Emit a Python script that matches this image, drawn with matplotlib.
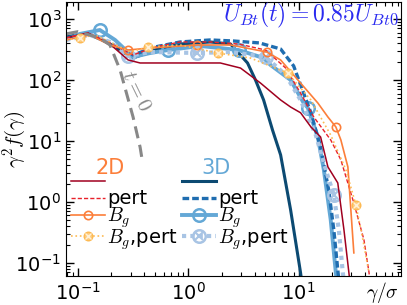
import matplotlib
matplotlib.use("Agg")
import matplotlib.pyplot as plt
from matplotlib.legend_handler import HandlerTuple

plt.rcParams['mathtext.fontset'] = 'cm'
plt.rcParams['font.family'] = ['DejaVu Sans']

# ---------------- data ----------------
g_t0 = [0.078, 0.10, 0.158, 0.195, 0.241, 0.316, 0.366, 0.382]
f_t0 = [570, 620, 489, 375, 146, 24.7, 7.9, 4.9]

g_3d = [0.078, 0.123, 0.195, 0.316, 0.5, 0.845, 1.58, 2.41, 3.44, 4.06, 4.81, 5.8, 6.86, 8.45, 10.4, 10.9]
f_3d = [507, 590, 389, 229, 310, 389, 420, 389, 190, 100, 47, 15, 5.9, 0.74, 0.069, 0.036]

g_3dp = [0.078, 0.123, 0.195, 0.316, 0.5, 0.845, 1.58, 2.55, 4.41, 6.86, 9.0, 10.4, 12.9, 15.8, 18.7, 20.8, 22.6, 23.6]
f_3dp = [489, 568, 405, 257, 348, 420, 453, 436, 405, 322, 170, 83, 29, 7.9, 1.57, 0.35, 0.077, 0.036]

g_3db = [0.078, 0.104, 0.158, 0.217, 0.316, 0.452, 0.658, 1.29, 2.85, 4.81, 5.56, 8.45, 11.1, 12.1, 14.9, 16.9, 19.5, 21.7, 22.6]
f_3db = [453, 568, 660, 453, 238, 277, 310, 361, 310, 229, 176, 100, 42, 35, 11.6, 3.35, 0.51, 0.069, 0.036]
m_3db = [2, 6, 8, 13]

g_3dbp = [0.078, 0.129, 0.195, 0.285, 0.452, 1.21, 2.41, 5.01, 7.62, 10.4, 14.3, 17.6, 20.8, 23.1, 25.1, 26.2]
f_3dbp = [453, 547, 420, 247, 288, 277, 288, 238, 121, 47, 12.5, 3.35, 1.30, 0.35, 0.069, 0.036]
m_3dbp = [3, 5, 7, 12]

g_2d = [0.078, 0.123, 0.195, 0.285, 0.366, 0.685, 1.95, 2.97, 4.51, 6.86, 8.45, 10.4, 12.9, 15.8, 18.4, 22.6, 25.7, 28.5, 29.7]
f_2d = [489, 590, 389, 213, 190, 190, 190, 157, 89, 47, 36, 29, 17, 11.6, 3.75, 2.05, 0.35, 0.069, 0.036]

g_2dp = [0.078, 0.123, 0.195, 0.316, 0.5, 0.845, 1.58, 2.85, 5.01, 7.62, 10.4, 13.7, 19.5, 24.1, 31.6, 39.0, 43.3, 45.1]
f_2dp = [489, 590, 405, 257, 348, 420, 420, 389, 310, 157, 61, 24.7, 10.4, 4.9, 0.96, 0.24, 0.071, 0.036]

g_2db = [0.078, 0.129, 0.195, 0.285, 0.452, 1.21, 2.41, 5.12, 6.86, 10.4, 14.9, 18.4, 21.7, 24.1, 27.9, 31.6]
f_2db = [453, 547, 375, 310, 335, 375, 375, 288, 213, 89, 42, 24.7, 17, 10.4, 3.75, 0.146]
m_2db = [3, 5, 7, 12]

g_2dbp = [0.078, 0.104, 0.143, 0.195, 0.297, 0.433, 0.845, 1.84, 3.66, 7.94, 12.9, 19.5, 26.8, 33.0, 38.2, 43.3]
f_2dbp = [453, 489, 547, 420, 288, 348, 375, 277, 229, 130, 47, 12.5, 3.35, 0.89, 0.24, 0.069]
m_2dbp = [1, 5, 7, 9, 13]

labels = ["", "pert", "$B_g$", "$B_g$,pert"]

# ---------------- colours ----------------
c2d, c2dp, c2db, c2dbp = '#a0001f', '#e8212a', '#fc7e3a', '#fdba53'
c3d, c3dp, c3db, c3dbp = '#0c4a72', '#1f6db0', '#64a8d6', '#a8c4e4'

fig = plt.figure(figsize=(4.07, 3.05), dpi=100)
ax = fig.add_axes([66/407, 1-276/305, 335/407, 274/305])

# 3D
l3d, = ax.plot(g_3d, f_3d, color=c3d, lw=2.2)
l3db, = ax.plot(g_3db, f_3db, color=c3db, lw=2.8, marker='o', ms=9, mfc='none',
                mew=1.8, markevery=m_3db)
l3dp, = ax.plot(g_3dp, f_3dp, color=c3dp, lw=2.4, ls=(0, (2, 0.9)))
l3dbp, = ax.plot(g_3dbp, f_3dbp, color=c3dbp, lw=3, ls=(0, (1, 1)), marker='o', ms=9,
                 mfc='none', mew=1.8, markevery=m_3dbp)
l3dbpx, = ax.plot([g_3dbp[i] for i in m_3dbp], [f_3dbp[i] for i in m_3dbp], ls='none',
                  marker='x', ms=6, mew=1.5, color=c3dbp)
# 2D
l2d, = ax.plot(g_2d, f_2d, color=c2d, lw=1.1)
l2dp, = ax.plot(g_2dp, f_2dp, color=c2dp, lw=1.0, ls=(0, (3, 1.5)))
l2db, = ax.plot(g_2db, f_2db, color=c2db, lw=1.2, marker='o', ms=6, mfc='none',
                mew=1.2, markevery=m_2db)
l2dbp, = ax.plot(g_2dbp, f_2dbp, color=c2dbp, lw=1.2, ls=':', marker='o', ms=6,
                 mfc='#fed08a', mec=c2dbp, mew=1.2, markevery=m_2dbp)
l2dbpx, = ax.plot([g_2dbp[i] for i in m_2dbp], [f_2dbp[i] for i in m_2dbp], ls='none',
                  marker='x', ms=4.5, mew=1.0, color='#fff1d8')
# t=0
ax.plot(g_t0, f_t0, color='#888888', lw=2.2, ls=(0, (4, 2.2)))
ax.text(0.343, 68, '$t=0$', color='#888888', fontsize=15, rotation=-64,
        ha='center', va='center')

ax.set_xscale('log')
ax.set_yscale('log')
ax.set_xlim(0.078, 84.5)
ax.set_ylim(0.061, 1900)

ax.tick_params(which='both', direction='in', top=True, right=True, labelsize=14)
ax.tick_params(which='major', length=6, width=1)
ax.tick_params(which='minor', length=3, width=0.8)
ax.tick_params(axis='x', pad=4)

ax.set_ylabel(r'$\gamma^2 f(\gamma)$', fontsize=15)
ax.yaxis.set_label_coords(-0.152, 0.5)
ax.yaxis.label.set_va('center')
ax.set_xlabel(r'$\gamma/\sigma$', fontsize=14)
ax.xaxis.set_label_coords(0.943, -0.062)
ax.xaxis.label.set_va('center')

ax.text(0.993, 0.95, r'$U_{Bt}(t)=0.85U_{Bt0}$', color='#2a2af0', fontsize=17,
        ha='right', va='center', transform=ax.transAxes)

h2 = [l2d, l2dp, l2db, (l2dbp, l2dbpx)]
h3 = [l3d, l3dp, l3db, (l3dbp, l3dbpx)]
kw = dict(frameon=False, fontsize=14, handlelength=1.75, handletextpad=0.1,
          labelspacing=-0.15, borderpad=0, borderaxespad=0, loc='upper left',
          handler_map={tuple: HandlerTuple(ndivide=1)})
leg1 = ax.legend(h2, labels, bbox_to_anchor=(0.016, 0.375), **kw)
ax.add_artist(leg1)
leg2 = ax.legend(h3, labels, bbox_to_anchor=(0.347, 0.375), **kw)

ax.text(0.131, 0.394, '2D', color=c2db, fontsize=15, ha='center', va='center',
        transform=ax.transAxes)
ax.text(0.448, 0.394, '3D', color=c3db, fontsize=15, ha='center', va='center',
        transform=ax.transAxes)

fig.savefig('out.png', dpi=100)
